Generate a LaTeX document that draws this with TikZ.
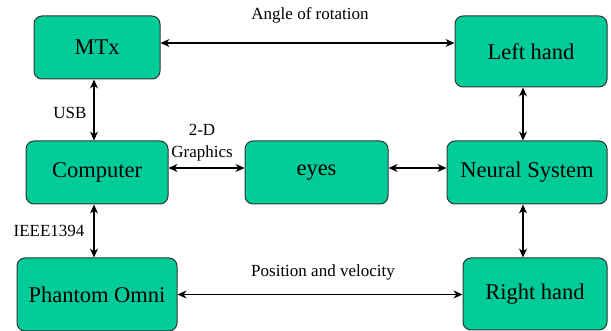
\documentclass[tikz,border=0pt]{standalone}
\usepackage{fontspec}
\setmainfont{Liberation Serif}
\usetikzlibrary{arrows.meta, positioning}
\definecolor{boxgreen}{RGB}{0,204,153}

\begin{document}
\begin{tikzpicture}[x=1pt, y=-1pt, every node/.style={font=\fontsize{17}{20}\selectfont}]
\tikzstyle{block} = [rectangle, rounded corners=8pt, inner sep=0pt, text centered, draw=black!80, line width=1pt, fill=boxgreen, font=\fontsize{22.5}{26}\selectfont]
\tikzstyle{arrow} = [line width=1.3pt, {Stealth[length=9pt,width=8pt]}-{Stealth[length=9pt,width=8pt]}]
\useasboundingbox (0,0) rectangle (611,331);

% Left column
\node (mtx) [block, minimum width=126pt, minimum height=63pt] at (97,47.5) {MTx};
\node (computer) [block, minimum width=142pt, minimum height=63pt] at (97,172.5) {Computer};
\node (phantom) [block, minimum width=160pt, minimum height=73pt] at (97,294.5) {Phantom Omni};

% Middle
\node (eyes) [block, minimum width=143pt, minimum height=63pt] at (316.5,172.5) {eyes};

% Right column
\node (lefthand) [block, minimum width=152pt, minimum height=71pt] at (531,51.5) {Left hand};
\node (neural) [block, minimum width=160pt, minimum height=63pt] at (527,172.5) {Neural System};
\node (righthand) [block, minimum width=144pt, minimum height=72pt] at (535,294) {Right hand};

% Labels
\node (angle) at (310,15) {Angle of rotation};
\node (posvel) at (323,272) {Position and velocity};
\node (usb) at (70,113) {USB};
\node (ieee) at (49,231) {IEEE1394};
\node (graphics) [align=center, font=\fontsize{17}{22}\selectfont] at (202,143) {2-D\\Graphics};

% Horizontal arrows
\draw [arrow] ([yshift=4.5pt]mtx.east) -- ([yshift=4.5pt]mtx.east -| lefthand.west);
\draw [arrow] ([yshift=4.5pt]computer.east) -- ([yshift=4.5pt]computer.east -| eyes.west);
\draw [arrow] ([yshift=4.5pt]eyes.east) -- ([yshift=4.5pt]eyes.east -| neural.west);
\draw [arrow] (phantom.east) -- (phantom.east -| righthand.west);

% Vertical arrows
\draw [arrow] ([xshift=-3pt]mtx.south) -- ([xshift=-3pt]mtx.south |- computer.north);
\draw [arrow] ([xshift=-3pt]computer.south) -- ([xshift=-3pt]computer.south |- phantom.north);
\draw [arrow] ([xshift=-4pt]neural.north) -- ([xshift=-4pt]neural.north |- lefthand.south);
\draw [arrow] ([xshift=-4pt]neural.south) -- ([xshift=-4pt]neural.south |- righthand.north);

\end{tikzpicture}
\end{document}
